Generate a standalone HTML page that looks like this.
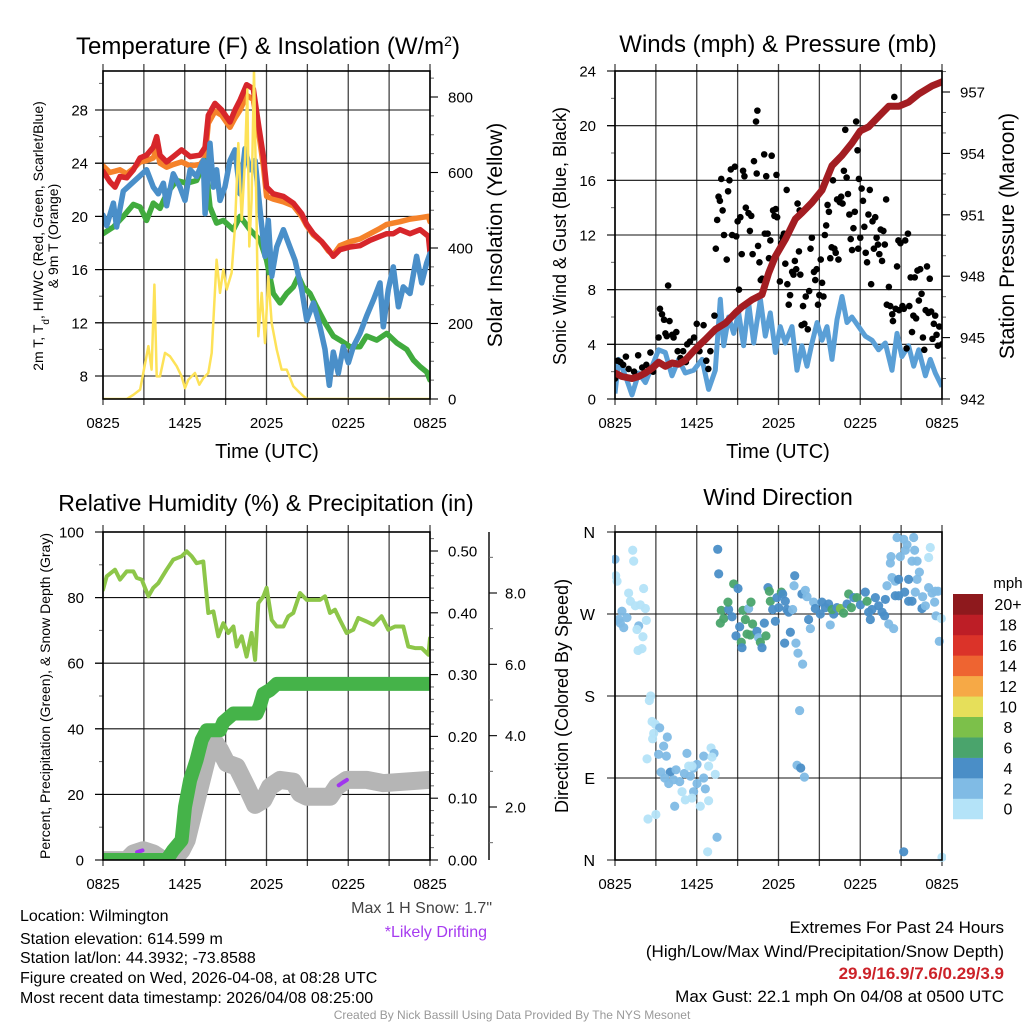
<!DOCTYPE html>
<html><head><meta charset="utf-8"><title>Mesonet Station Meteogram</title>
<style>
html,body{margin:0;padding:0;background:#fff;}
svg{display:block;font-family:"Liberation Sans",Arial,sans-serif;}
</style></head>
<body>
<svg id="fig" width="1024" height="1024" viewBox="0 0 1024 1024" xmlns="http://www.w3.org/2000/svg">
<rect x="0" y="0" width="1024" height="1024" fill="#fff"/>
<defs>
<clipPath id="c1"><rect x="103" y="71" width="327" height="328"/></clipPath>
<clipPath id="c2"><rect x="615" y="71" width="327" height="328"/></clipPath>
<clipPath id="c3"><rect x="103" y="532" width="327" height="328"/></clipPath>
<clipPath id="c4"><rect x="612" y="528" width="334" height="336"/></clipPath>
</defs>
<g id="layer"></g>
<text x="268" y="54" font-size="24" text-anchor="middle" fill="#000">Temperature (F) &amp; Insolation (W/m<tspan baseline-shift="super" font-size="14">2</tspan>)</text>
<text x="778" y="52" font-size="24" text-anchor="middle" fill="#000">Winds (mph) &amp; Pressure (mb)</text>
<text x="266" y="511" font-size="23" text-anchor="middle" fill="#000">Relative Humidity (%) &amp; Precipitation (in)</text>
<text x="778" y="505" font-size="23" text-anchor="middle" fill="#000">Wind Direction</text>
<text x="267" y="458" font-size="20" text-anchor="middle">Time (UTC)</text>
<text x="778" y="458" font-size="20" text-anchor="middle">Time (UTC)</text>
<text transform="translate(43,236) rotate(-90)" font-size="14" text-anchor="middle">2m T, T<tspan baseline-shift="sub" font-size="10">d</tspan>, HI/WC (Red, Green, Scarlet/Blue)</text>
<text transform="translate(58,236) rotate(-90)" font-size="14" text-anchor="middle">&amp; 9m T (Orange)</text>
<text transform="translate(502,235) rotate(-90)" font-size="21" text-anchor="middle">Solar Insolation (Yellow)</text>
<text transform="translate(566,236) rotate(-90)" font-size="18" text-anchor="middle">Sonic Wind &amp; Gust (Blue, Black)</text>
<text transform="translate(1014,236) rotate(-90)" font-size="21" text-anchor="middle">Station Pressure (Maroon)</text>
<text transform="translate(50,696) rotate(-90)" font-size="14" text-anchor="middle">Percent, Precipitation (Green), &amp; Snow Depth (Gray)</text>
<text transform="translate(568,696) rotate(-90)" font-size="18" text-anchor="middle">Direction (Colored By Speed)</text>
<g font-size="16" fill="#000">
<text x="20" y="921">Location: Wilmington</text>
<text x="20" y="944">Station elevation: 614.599 m</text>
<text x="20" y="963">Station lat/lon: 44.3932; -73.8588</text>
<text x="20" y="983">Figure created on Wed, 2026-04-08, at 08:28 UTC</text>
<text x="20" y="1003">Most recent data timestamp: 2026/04/08 08:25:00</text>
</g>
<text x="492" y="913" font-size="16" text-anchor="end" fill="#444">Max 1 H Snow: 1.7"</text>
<text x="487" y="937" font-size="16" text-anchor="end" fill="#a63bf0">*Likely Drifting</text>
<text x="512" y="1019" font-size="12" text-anchor="middle" fill="#999">Created By Nick Bassill Using Data Provided By The NYS Mesonet</text>
<g font-size="17" text-anchor="end">
<text x="1004" y="933">Extremes For Past 24 Hours</text>
<text x="1004" y="957">(High/Low/Max Wind/Precipitation/Snow Depth)</text>
<text x="1004" y="979" font-weight="bold" fill="#cc2229">29.9/16.9/7.6/0.29/3.9</text>
<text x="1004" y="1002">Max Gust: 22.1 mph On 04/08 at 0500 UTC</text>
</g>
</svg>
<script>
const xTickLabels = ["0825","1425","2025","0225","0825"];
const tempTicks = [8,12,16,20,24,28];
const solarTicks = [0,200,400,600,800];
const windTicks = [0,4,8,12,16,20,24];
const presTicks = [942,945,948,951,954,957];
const pctTicks = [0,20,40,60,80,100];
const precipTicks = [0,0.1,0.2,0.3,0.4,0.5];
const precipTickLabels = ["0.00","0.10","0.20","0.30","0.40","0.50"];
const snowTicks = [2,4,6,8];
const snowTickLabels = ["2.0","4.0","6.0","8.0"];
const dirTicks = [0,90,180,270,360];
const dirTickLabels = ["N","E","S","W","N"];
const speedBins = [0,2,4,6,8,10,12,14,16,18,20];
const speedBinLabels = ["0","2","4","6","8","10","12","14","16","18","20+"];
const speedColors = ["#b4e3f8","#80bbe5","#4a8ec7","#4aa46c","#7cc04a","#e6df5a","#f6a946","#ee6431","#db3329","#bd1e26","#8e191d"];

const tRed = [0,.51,.88,1.25,1.74,2.23,2.72,3.2,3.69,3.94,4.18,4.67,5.16,5.77,6.39,7.12,7.49,7.73,8.22,8.71,9.32,9.69,10.06,10.54,11.03,11.4,11.77,12.01,12.5,13.24,13.97,14.58,14.95,15.44,16.05,16.54,16.9,17.39,18.13,18.86,19.6,20.33,20.82,21.31,21.8,22.53,23.27,23.88,24];
const vRed = [23.4,22.6,22.2,23,22.9,23.5,24.4,24.6,25.2,26,24.6,24.1,24.5,25,24.5,24.6,25.2,27.6,28.5,28,27.1,28,28.75,29.9,29.6,27,24.5,22.2,21.7,21.5,21,20.2,19.4,18.7,18.1,17.5,17,17.5,17.7,17.8,18.2,18.5,18.7,18.7,19,18.7,19,18.5,17.3];
const vOrange = [23.8,23.3,23.4,23.5,23.2,23.6,24.1,24.2,24.4,25.1,24.0,23.7,23.9,24.1,23.8,23.9,24.4,27.0,27.9,27.6,26.7,27.4,28.0,29.1,28.8,26.5,23.8,21.5,21.3,21.1,20.8,20.0,19.3,18.6,18.1,17.4,17.1,17.8,18.1,18.3,18.7,19.1,19.4,19.5,19.6,19.8,19.9,20.0,19.6];
const tBlue = [0,.27,.76,1.0,1.49,3.2,3.69,4.06,4.43,4.67,5.16,5.65,6.02,6.39,6.87,7.36,7.49,7.85,8.1,8.34,8.59,8.95,9.32,9.69,10.06,10.42,10.79,11.16,11.52,11.89,12.13,12.38,12.75,13.24,13.72,14.09,14.58,14.95,15.44,15.93,16.29,16.61,16.9,17.27,17.64,18.01,18.37,18.86,19.35,19.84,20.33,20.57,20.94,21.31,21.68,22.04,22.53,23.02,23.39,23.76,24];
const vBlue = [20.1,19.3,21,19.2,21.9,23.5,22.2,21.7,22.5,20.8,23.2,22.2,21.2,23.5,23,24.2,20.2,25.5,22.2,23.5,21.2,22.2,24.2,25,21.7,25.1,23.5,24.2,20.5,17,19.7,15.5,17.7,19,17.7,16.7,14.5,12.2,13.5,11.7,10,7.3,9.8,8.2,10.2,9,10.2,11.2,12.5,13.7,15,11.7,14.5,16.2,13.2,14.7,14.2,17,15,16.5,17.2];
const tGreen = [0,.76,1.49,2.23,2.72,3.2,3.69,4.18,4.67,5.41,6.14,6.87,7.49,7.85,8.34,8.83,9.57,10.06,10.79,11.52,12.01,12.5,12.99,13.48,13.97,14.34,14.7,15.19,15.68,16.29,16.9,17.39,18.13,18.86,19.35,20.09,20.82,21.55,22.29,22.78,23.27,23.76,24];
const vGreen = [18.7,19.2,20,20.9,20.7,19.7,21,20.6,21.7,22.7,22.5,22.7,24.2,20.7,19.5,19.7,19,20,19,18.2,16.7,14.2,13.5,14.2,14.7,15.5,14.7,14.2,13.2,12,11,10.7,10.2,10.2,11,10.7,11.2,10.5,10,9.2,8.7,8.3,7.7];
const tSolar = [0,1.74,2.23,2.72,2.96,3.33,3.57,3.77,3.94,4.18,4.55,4.92,5.41,5.77,6.02,6.26,6.75,7.07,7.36,7.73,7.98,8.34,8.59,8.83,9.08,9.44,9.69,9.93,10.18,10.42,10.59,10.74,10.91,11.08,11.28,11.4,11.65,11.89,12.13,12.38,12.75,13.11,13.48,13.97,14.46,14.95,24];
const vSolar = [0,0,11,25,69,140,78,303,60,60,122,113,87,60,29,51,69,38,55,69,122,369,281,343,290,334,457,678,475,634,820,404,528,872,457,166,281,148,325,201,131,78,78,34,16,0,0];

const tWind = [0,.27,.76,1.25,1.74,2.23,2.72,3.2,3.69,4.18,4.67,5.16,5.77,6.39,6.87,7.36,7.73,7.98,8.34,8.71,9.08,9.44,9.81,10.18,10.67,11.03,11.4,11.77,12.13,12.5,12.99,13.36,13.72,14.09,14.46,14.83,15.19,15.56,15.93,16.29,16.66,17.03,17.39,17.88,18.37,18.86,19.35,19.84,20.33,20.7,21.06,21.55,21.92,22.29,22.78,23.14,23.51,24];
const vWind = [0.4,2.9,1.7,0.3,1.9,1.2,2.4,3.6,3.4,1.7,2.9,1.9,2.1,2.9,0.7,2.1,7.3,3.9,6,4.8,6.3,3.9,7,4.1,7.3,4.6,6.3,3.4,5.3,4.1,5.3,2.1,3.9,2.4,4.1,5.6,4.3,5.3,2.9,5.8,7.5,5.6,6,5.3,4.6,4.3,3.6,4.1,2.1,4.8,3.1,3.9,2.4,3.6,1.7,2.9,1.9,0.9];
const gusts = [[0.0,1.5],[0.2,2.8],[0.4,2.7],[0.6,2.5],[0.8,3.1],[1.0,2.2],[1.2,1.5],[1.4,2.0],[1.7,3.2],[2.0,2.3],[2.3,2.5],[2.6,3.4],[2.8,2.0],[3.0,2.5],[3.2,4.5],[3.3,6.6],[3.45,6.2],[3.6,5.8],[3.7,4.8],[3.8,4.6],[3.9,8.3],[4.0,5.7],[4.2,4.7],[4.3,4.5],[4.5,4.9],[4.6,3.5],[4.8,3.0],[5.0,3.5],[5.2,2.7],[5.3,4.0],[5.5,4.2],[5.8,4.5],[6.0,5.5],[6.2,3.5],[6.5,5.4],[6.7,2.8],[6.85,2.2],[7.0,3.5],[7.3,6.1],[7.4,11.0],[7.5,13.1],[7.6,14.8],[7.7,14.5],[7.8,16.1],[7.9,13.8],[8.0,12.0],[8.2,10.2],[8.3,15.2],[8.4,16.0],[8.5,16.8],[8.6,12.0],[8.8,17.0],[8.9,11.9],[9.0,13.0],[9.1,8.0],[9.2,13.3],[9.3,10.6],[9.4,16.7],[9.5,16.3],[9.6,14.0],[9.8,13.6],[9.9,12.3],[10.0,13.4],[10.1,10.6],[10.2,17.4],[10.35,20.3],[10.45,21.1],[10.4,16.5],[10.5,11.2],[10.6,10.0],[10.7,8.7],[10.8,8.8],[10.95,17.9],[11.0,12.1],[11.1,16.3],[11.2,12.1],[11.3,10.3],[11.4,11.6],[11.5,17.8],[11.6,13.8],[11.7,13.4],[11.8,13.9],[11.85,16.4],[11.9,13.3],[12.1,8.6],[12.2,11.4],[12.3,11.8],[12.4,12.1],[12.5,9.9],[12.6,15.3],[12.65,8.4],[12.75,6.9],[12.85,7.6],[13.0,9.3],[13.1,9.1],[13.2,10.1],[13.3,9.5],[13.4,14.3],[13.5,10.8],[13.55,13.8],[13.6,9.1],[13.7,5.4],[13.8,6.8],[13.9,5.5],[14.0,7.5],[14.15,5.1],[14.25,7.9],[14.35,11.0],[14.45,11.8],[14.6,9.3],[14.7,8.7],[14.8,9.5],[14.9,6.9],[15.0,7.6],[15.1,10.2],[15.2,8.5],[15.3,7.5],[15.4,12.0],[15.5,12.7],[15.6,14.2],[15.7,13.7],[15.8,10.3],[15.9,11.1],[16.0,16.0],[16.1,11.0],[16.2,10.7],[16.3,14.6],[16.4,10.2],[16.5,14.4],[16.6,14.8],[16.7,14.3],[16.8,16.7],[16.9,19.7],[17.0,16.2],[17.1,15.0],[17.2,13.5],[17.3,11.7],[17.4,10.9],[17.5,12.5],[17.6,13.7],[17.7,20.3],[17.8,18.2],[17.85,11.0],[17.9,16.1],[18.0,11.8],[18.1,15.4],[18.2,14.5],[18.3,12.6],[18.4,10.7],[18.5,10.0],[18.6,13.5],[18.7,15.3],[18.8,8.4],[18.9,13.0],[19.0,11.0],[19.1,13.3],[19.2,11.8],[19.3,11.3],[19.4,10.6],[19.5,12.4],[19.6,10.1],[19.7,12.3],[19.8,11.3],[19.9,14.6],[19.95,6.9],[20.1,8.2],[20.2,6.8],[20.35,6.2],[20.4,5.7],[20.5,22.1],[20.6,6.6],[20.7,9.7],[20.8,11.6],[20.85,6.5],[20.95,11.4],[21.1,6.8],[21.2,6.6],[21.3,11.6],[21.4,3.7],[21.5,12.1],[21.6,6.8],[21.7,8.9],[21.8,4.9],[21.9,6.1],[22.0,8.9],[22.1,5.9],[22.2,9.4],[22.3,7.2],[22.4,9.5],[22.5,7.7],[22.6,4.5],[22.7,3.6],[22.8,6.5],[22.9,9.7],[23.0,6.3],[23.1,8.8],[23.2,6.4],[23.3,4.4],[23.4,5.5],[23.5,6.1],[23.6,4.7],[23.7,3.9],[23.8,5.3],[24.0,4.0]];
const tPres = [0,.51,1.25,1.74,2.23,2.72,3.2,3.69,4.18,4.67,5.16,5.65,6.14,6.63,7.36,8.1,8.83,9.32,10.06,10.79,11.28,11.77,12.5,13.24,13.72,14.46,15.19,15.93,16.66,17.39,18.0,18.62,19.35,20.09,20.82,21.55,22.29,23.27,24];
const vPres = [943.27,943.1,943.0,943.1,943.27,943.5,943.8,943.6,943.76,943.7,943.9,944.25,944.6,944.9,945.4,945.7,946.2,946.5,946.85,947.1,948.16,948.97,949.8,950.8,951.1,951.6,952.2,953.4,953.9,954.5,955.1,955.3,955.8,956.3,956.3,956.5,956.9,957.3,957.5];

const tRH = [0,.27,.88,1.25,1.74,2.23,2.47,2.84,3.33,3.69,4.06,4.67,5.16,5.77,6.14,6.51,6.87,7.36,7.73,8.1,8.46,8.83,9.2,9.57,9.81,10.18,10.54,10.91,11.16,11.4,11.77,12.01,12.38,12.75,13.24,13.6,13.97,14.46,14.95,15.44,15.93,16.29,16.66,17.03,17.39,17.88,18.37,18.74,19.35,19.84,20.45,20.94,21.43,22.04,22.41,22.9,23.39,23.88,24];
const vRH = [82.4,86.5,88.5,85.5,88,88,86,85.5,80.4,83,84.4,88.5,91.6,92.6,94.1,92.6,90.5,91,75.3,75.8,68.2,72.2,69.2,71.2,65.1,68.2,62,69.2,61,78.3,80.4,83,73.2,71.2,71.2,74.3,75.3,81.4,79.3,79.3,79.3,80.4,75.3,76.3,73.2,69.2,70.2,73.8,72.7,71.7,74.3,70.2,71.2,71.2,65.1,64.6,64.6,62.6,67.6];
const tPrecip = [0,4.67,5.16,5.77,6.02,6.39,6.87,7.24,7.61,8.59,8.83,9.57,11.28,11.52,11.77,12.26,12.75,24];
const vPrecip = [0,0,.016,.032,.086,.129,.162,.194,.21,.21,.223,.237,.237,.25,.269,.275,.285,.285];
const tSnow = [0,1.74,2.23,2.96,3.69,4.43,5.16,5.77,6.14,6.63,7.12,7.61,8.1,8.59,9.08,9.81,10.54,11.16,11.77,12.26,12.99,13.97,14.46,14.95,16.66,17.15,17.88,19.35,20.57,24];
const vSnow = [.51,.51,.7,.79,.7,.51,.51,.79,1.07,1.82,2.57,3.32,3.88,3.6,3.23,3.13,2.57,2.06,2.2,2.57,2.76,2.71,2.38,2.29,2.29,2.57,2.76,2.76,2.67,2.76];
const driftWindows = [[2.5,2.9],[17.3,17.9]];

const dirObs = [[0,330,2.5],[0.05,312,1.5],[0.15,306,1.5],[1.3,340,1],[1.37,328,1],[1.0,293,1],[1.13,284,1],[2.1,298,1],[2.23,276,1],[1.86,280,1],[1.49,279,1],[0.51,273,2.5],[0.27,264,2.5],[0.64,255,2.5],[0.88,266,2.5],[0.39,260,2.5],[1.74,257,2.5],[1.61,253,1.5],[2.3,263,1.5],[2.05,245,1.5],[1.69,230,1],[1.98,232,1],
[2.62,180,1.5],[2.52,175,1],[2.72,152,1.5],[2.96,149,1.5],[3.28,145,3],[2.84,139,1.5],[2.76,133,1],[3.84,135,3],[3.57,125,3],[3.2,116,2.5],[3.77,114,2.5],[3.38,96.5,2.5],[4.06,96.5,4.5],[4.48,99,2.5],[5.28,117,3],[3.65,90,2.5],[3.94,84,2.5],[4.31,88,2.5],[4.75,86,2.5],[5.09,95,3],[5.53,92,2.5],[5.77,101,3],[6.02,105,3],[5.65,103,1.5],[5.41,103,1],[6.51,114,2.5],[7.05,123,1],[7.27,117,3],[7.12,113,1],[6.87,103,1],[7.36,94,1],[6.51,90,2.5],[6.02,84,2.5],[5.77,75,3],[6.63,78,2.5],[4.92,75,1],[5.16,66,1],[5.65,68,1],[6.26,59,1],[6.87,65,1],[4.38,59,3],[2.42,45,1],[3.0,50,1],[2.35,111,1],[7.49,25,3],[6.8,9,1],
[7.54,341,4.5],[7.61,314,4.5],[7.8,274,6],[7.98,265,6],[7.73,260,6],[8.34,275,4.5],[8.59,267,4.5],[8.71,303,6],[9.03,298,4.5],[8.29,283,6],[9.15,256,4.5],[8.88,246,4.5],[9.27,239,6],[9.32,233,4.5],[9.39,274,6],[9.81,276,2.5],[9.57,264,6],[9.98,283,6],[10.1,259,6],[9.69,248,6],[9.93,247,6],[10.42,251,4.5],[10.54,244,3],[10.67,239,6],[10.79,233,4.5],[11.08,246,6],[10.96,260,4.5],[11.23,299,4.5],[11.33,295,6],[11.4,284,6],[11.57,275,4.5],[11.77,262,4.5],[11.89,288,4.5],[12.01,277,4.5],[12.21,294,6],[12.31,292,4.5],[12.5,284,4.5],[12.62,275,4.5],[12.75,272,4.5],[12.87,250,4.5],[12.45,238,4.5],[13.04,275,3],[13.19,312,4.5],[13.14,301,3],[13.72,292,4.5],[13.97,296,3],[14.09,289,3],[13.28,238,3],[13.43,227,3],[13.77,215,3],[14.21,264,4.5],[14.34,254,3],[14.58,283,3],[14.7,276,4.5],[15.07,270,4.5],[15.19,283,4.5],[15.44,277,4.5],[15.68,281,4.5],[15.8,258,3],[16.05,270,4.5],[15.93,275,6.5],[16.29,277,4.5],[16.54,276,8],[16.78,271,6.5],[17.03,281,4.5],[17.15,292,6.5],[17.35,277,6.5],[17.52,288,4.5],[17.76,288,6.5],[18.01,280,4.5],[18.5,284,6.5],[18.37,294,4.5],[18.74,264,4.5],[18.62,272,4.5],[18.86,275,4.5],[19.11,288,4.5],[19.35,279,4.5],[19.6,272,4.5],[19.84,286,4.5],[19.79,268,4.5],[20.09,259,3],[20.45,254,3],[19.96,301,3],[20.33,310,3],[20.57,306,3],[20.21,326,3],[20.26,333,3],[20.82,308,4.5],[20.94,333,3],[20.7,354,3],[21.19,352,3],[21.92,354,3],[21.43,346,3],[21.31,340,3],[21.99,340,3],[21.8,328,3],[22.17,328,3],[22.34,316,3],[22.17,308,3],[21.55,308,4.5],[20.57,290,4.5],[20.82,290,4.5],[21.26,294,4.5],[21.55,284,4.5],[21.8,284,4.5],[22.04,294,3],[22.53,276,4.5],[22.78,279,3],[22.58,289,3],[23.02,299,3],[23.27,293,3],[23.51,295,3],[23.71,295,3],[23.46,283,3],[23.56,268,3],[23.95,265,1.5],[23.8,240,3],[23.14,343,1],[23.02,332,1],[21.19,9,4.5],[24,3,1.5],[13.55,164,3],[13.36,104,3],[13.63,101,4.5],[13.9,91,3]];

const NS = "http://www.w3.org/2000/svg";
const layer = document.getElementById("layer");
function mk(tag, attrs, parent){
  const e = document.createElementNS(NS, tag);
  for (const k in attrs) e.setAttribute(k, attrs[k]);
  (parent || layer).appendChild(e);
  return e;
}
function linScale(d0, d1, r0, r1){ return v => r0 + (v - d0) * (r1 - r0) / (d1 - d0); }
function pathD(ts, vs, xf, yf){
  let d = "";
  for (let i = 0; i < ts.length; i++) d += (i ? "L" : "M") + xf(ts[i]).toFixed(1) + " " + yf(vs[i]).toFixed(1);
  return d;
}
function interp(ts, vs, t){
  for (let i = 1; i < ts.length; i++) if (t <= ts[i]) { const f = (t - ts[i-1]) / (ts[i] - ts[i-1]); return vs[i-1] + f * (vs[i] - vs[i-1]); }
  return vs[vs.length-1];
}
const hourTicks = [0,3,6,9,12,15,18,21,24];

function frame(px, yTicksPx, name){
  const g = mk("g", {});
  
  
  hourTicks.forEach(h => {
    const x = px.xf(h);
    const v = mk("line", {x1:x, x2:x, y1:px.y0 - 7, y2:px.y1 + 6, stroke:"#444", "stroke-width":1.3}, g);
    
    
  });
  yTicksPx.forEach(y => {
    const l = mk("line", {x1:px.x0 - 8, x2:px.x1, y1:y, y2:y, stroke:"#111", "stroke-width":1.1}, g);
    
    
  });
  const lbl = [0,6,12,18,24];
  lbl.forEach((h, i) => {
    const t = mk("text", {x:px.xf(h), y:px.y1 + 29, "font-size":15, "text-anchor":"middle"}, g);
    t.textContent = xTickLabels[i];
    
    
  });
  return g;
}
function border(px, name){
  const r = mk("rect", {x:px.x0, y:px.y0, width:px.x1 - px.x0, height:px.y1 - px.y0, fill:"none", stroke:"#000", "stroke-width":1.6});
  
  
}
function yAxis(x, dir, ticks, labels, yf, minors, name, lx, anchor){
  const g = mk("g", {});
  
  
  ticks.forEach((v, i) => {
    const y = yf(v);
    mk("line", {x1:x, x2:x + dir*8, y1:y, y2:y, stroke:"#000", "stroke-width":1.1}, g);
    const t = mk("text", {x:lx, y:y + 5.5, "font-size":15, "text-anchor":anchor}, g);
    t.textContent = labels[i];
    
    
  });
  minors.forEach(v => mk("line", {x1:x, x2:x + dir*4, y1:yf(v), y2:yf(v), stroke:"#666", "stroke-width":1}, g));
}
function range(a, b, s){ const r = []; for (let v = a; v <= b + 1e-9; v += s) r.push(+v.toFixed(4)); return r; }

const p1 = {x0:103, x1:430, y0:71, y1:399};
p1.xf = linScale(0, 24, p1.x0, p1.x1);
const yT = linScale(8, 28, 376, 110);
const yS = linScale(0, 800, 399, 97);
frame(p1, tempTicks.map(yT), "temperature");
yAxis(p1.x0, -1, tempTicks, tempTicks.map(String), yT, range(10, 30, 2).filter(v => v % 4 && yT(v) > p1.y0), "temperature-y-axis", 88, "end");
yAxis(p1.x1, 1, solarTicks, solarTicks.map(String), yS, range(50, 850, 50).filter(v => v % 200), "insolation-y-axis", 448, "start");
{
  const g = mk("g", {"clip-path":"url(#c1)", fill:"none", "stroke-linejoin":"round", "stroke-linecap":"round"});
  
  
  const o = mk("path", {d:pathD(tRed, vOrange, p1.xf, yT), stroke:"#f5822a", "stroke-width":5.5}, g);
  
  
  const r = mk("path", {d:pathD(tRed, vRed, p1.xf, yT), stroke:"#d7262b", "stroke-width":5.5}, g);
  
  
  const gr = mk("path", {d:pathD(tGreen, vGreen, p1.xf, yT), stroke:"#41ab3e", "stroke-width":5.5}, g);
  
  
  const b = mk("path", {d:pathD(tBlue, vBlue, p1.xf, yT), stroke:"#4a8fc9", "stroke-width":5.5}, g);
  
  
  const y = mk("path", {d:pathD(tSolar, vSolar, p1.xf, yS), stroke:"#fde258", "stroke-width":2.5}, g);
  
  
}
border(p1, "temperature");

const p2 = {x0:615, x1:942, y0:71, y1:399};
p2.xf = linScale(0, 24, p2.x0, p2.x1);
const yW = linScale(0, 24, 399, 71);
const yP = linScale(942, 957, 399, 92);
frame(p2, windTicks.map(yW), "winds");
yAxis(p2.x0, -1, windTicks, windTicks.map(String), yW, range(2, 22, 4), "wind-y-axis", 596, "end");
yAxis(p2.x1, 1, presTicks, presTicks.map(String), yP, range(943, 958, 1).filter(v => (v - 942) % 3 && yP(v) > p2.y0), "pressure-y-axis", 960, "start");
{
  const g = mk("g", {"clip-path":"url(#c2)"});
  
  
  const w = mk("path", {d:pathD(tWind, vWind, p2.xf, yW), stroke:"#5a9fd6", "stroke-width":5, fill:"none", "stroke-linejoin":"round"}, g);
  
  
  gusts.forEach(d => {
    const c = mk("circle", {cx:p2.xf(d[0]), cy:yW(d[1]), r:3.3, fill:"#000"}, g);
    
    
  });
  const p = mk("path", {d:pathD(tPres, vPres, p2.xf, yP), stroke:"#a31d22", "stroke-width":7, fill:"none", "stroke-linejoin":"round", "stroke-linecap":"round"}, g);
  
  
}
border(p2, "winds");

const p3 = {x0:103, x1:430, y0:532, y1:860};
p3.xf = linScale(0, 24, p3.x0, p3.x1);
const yPct = linScale(0, 100, 860, 532);
const yIn = linScale(0, 0.5, 860, 551);
const ySn = linScale(2, 8, 807, 593);
frame(p3, pctTicks.map(yPct), "humidity");
yAxis(p3.x0, -1, pctTicks, pctTicks.map(String), yPct, range(10, 90, 20), "percent-y-axis", 84, "end");
yAxis(p3.x1, 1, precipTicks, precipTickLabels, yIn, range(0.02, 0.52, 0.02).filter(v => Math.abs(v*10 - Math.round(v*10)) > 0.01), "precipitation-y-axis", 448, "start");
{
  const ax = mk("line", {x1:489, x2:489, y1:532, y2:860, stroke:"#000", "stroke-width":1.4});
  
  
}
yAxis(489, 1, snowTicks, snowTickLabels, ySn, range(1, 9, 1).filter(v => v % 2), "snow-depth-y-axis", 505, "start");
{
  const g = mk("g", {"clip-path":"url(#c3)", fill:"none", "stroke-linejoin":"round", "stroke-linecap":"round"});
  
  
  const s = mk("path", {d:pathD(tSnow, vSnow, p3.xf, ySn), stroke:"#b5b5b5", "stroke-width":18}, g);
  
  
  driftWindows.forEach(w => {
    const ts = [w[0], (w[0]+w[1])/2, w[1]];
    const vs = ts.map(t => interp(tSnow, vSnow, t));
    const d = mk("path", {d:pathD(ts, vs, p3.xf, ySn), stroke:"#a035ee", "stroke-width":4}, g);
    
    
  });
  const pr = mk("path", {d:pathD(tPrecip, vPrecip, p3.xf, yIn), stroke:"#45b349", "stroke-width":14}, g);
  
  
  const rh = mk("path", {d:pathD(tRH, vRH, p3.xf, yPct), stroke:"#8dc649", "stroke-width":4}, g);
  
  
}
border(p3, "humidity");

const p4 = {x0:615, x1:942, y0:532, y1:860};
p4.xf = linScale(0, 24, p4.x0, p4.x1);
const yD = linScale(0, 360, 860, 532);
frame(p4, dirTicks.map(yD), "direction");
{
  const g = mk("g", {});
  
  
  dirTicks.forEach((v, i) => {
    const t = mk("text", {x:595, y:yD(v) + 6, "font-size":16, "text-anchor":"end"}, g);
    t.textContent = dirTickLabels[i];
    
    
  });
}
function speedColor(s){ let k = 0; for (let i = 0; i < speedBins.length; i++) if (s >= speedBins[i]) k = i; return speedColors[k]; }
{
  const g = mk("g", {"clip-path":"url(#c4)"});
  
  
  dirObs.forEach(d => {
    const c = mk("circle", {cx:p4.xf(d[0]), cy:yD(d[1]), r:4.6, fill:speedColor(d[2]), "fill-opacity":0.95}, g);
    
    
  });
}
border(p4, "direction");
{
  const g = mk("g", {});
  
  
  const bh = 20.45, top = 594, n = speedBins.length;
  speedBins.forEach((b, i) => {
    const y = top + (n - 1 - i) * bh;
    const r = mk("rect", {x:953, y:y, width:30, height:bh + 0.3, fill:speedColors[i]}, g);
    
    
    const t = mk("text", {x:1008, y:y + bh/2 + 6, "font-size":16, "text-anchor":"middle"}, g);
    t.textContent = speedBinLabels[i];
    
    
  });
  const u = mk("text", {x:1008, y:588, "font-size":15, "text-anchor":"middle"}, g);
  u.textContent = "mph";
  
  
}
</script>
</body></html>
